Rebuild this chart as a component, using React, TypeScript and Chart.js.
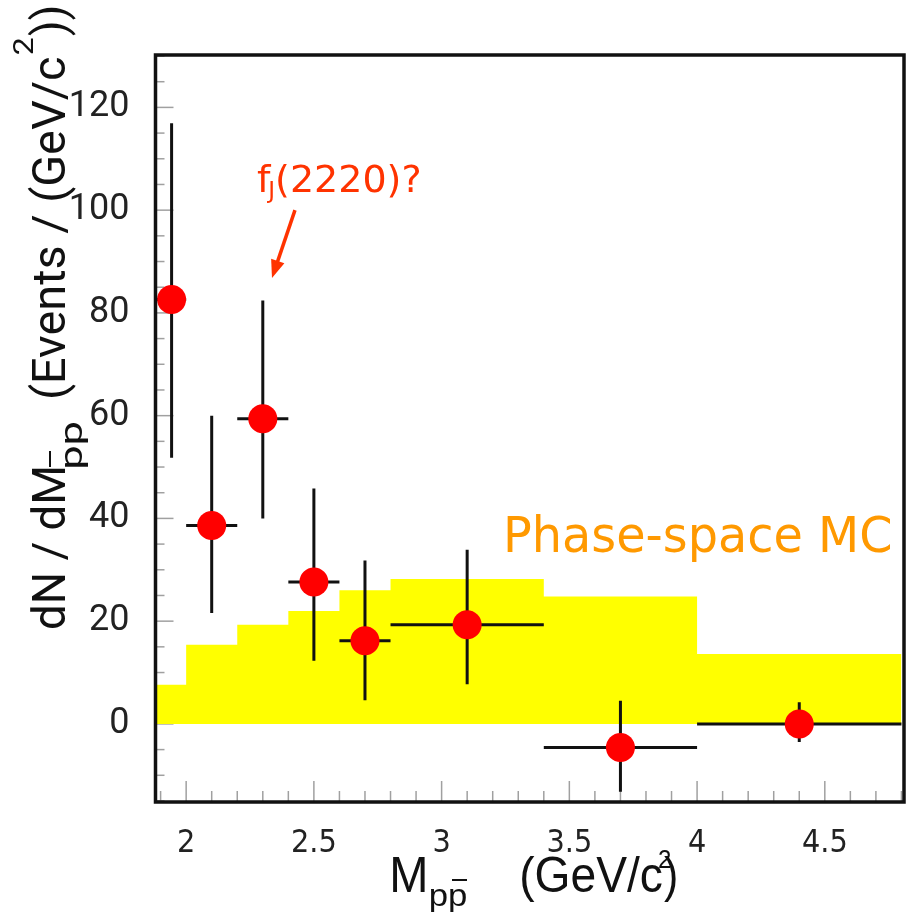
import React, { useEffect, useRef } from "react";
import { Chart, registerables } from "chart.js";

Chart.register(...registerables);

// ---- data ----
const pointX = [1.943, 2.1, 2.3, 2.5, 2.7, 3.1, 3.7, 4.4];
const pointY = [82.6, 38.6, 59.4, 27.6, 16.2, 19.3, -4.6, 0.0];
const errXLow = [1.88, 2.0, 2.2, 2.4, 2.6, 2.8, 3.4, 4.0];
const errXHigh = [2.0, 2.2, 2.4, 2.6, 2.8, 3.4, 4.0, 4.8];
const errYLow = [51.8, 21.6, 40.0, 12.3, 4.6, 7.7, -13.2, -3.5];
const errYHigh = [116.9, 60.0, 82.4, 45.8, 31.8, 33.9, 4.5, 4.2];

const mcEdges = [1.88, 2.0, 2.2, 2.4, 2.6, 2.8, 3.4, 4.0, 4.8];
const mcHeights = [7.6, 15.4, 19.3, 22.0, 26.0, 28.2, 24.8, 13.6];

const xRange = [1.88, 4.81];
const yRange = [-15.2, 130.2];
const xMajorStep = 0.5;
const xMinorStep = 0.1;
const yMajorStep = 20;
const yMinorStep = 5;

const annotationText = "(2220)?";
const phaseSpaceLabel = "Phase-space MC";

// ---- helpers ----
function fitText(ctx: CanvasRenderingContext2D, text: string, font: string, x: number, y: number, width: number) {
  ctx.font = font;
  ctx.textAlign = "left";
  ctx.textBaseline = "alphabetic";
  const m = ctx.measureText(text);
  const w = m.actualBoundingBoxLeft + m.actualBoundingBoxRight;
  const s = width / w;
  ctx.save();
  ctx.translate(x, y);
  ctx.scale(s, 1);
  ctx.fillText(text, m.actualBoundingBoxLeft, 0);
  ctx.restore();
}

function seg(ctx: CanvasRenderingContext2D, x1: number, y1: number, x2: number, y2: number) {
  ctx.beginPath();
  ctx.moveTo(x1, y1);
  ctx.lineTo(x2, y2);
  ctx.stroke();
}

const decorPlugin = {
  id: "decor",
  beforeDatasetsDraw(chart: any) {
    const { ctx, chartArea: a, scales } = chart;
    const x = scales.x;
    const y = scales.y;
    ctx.save();
    ctx.strokeStyle = "#a0a0a0";
    ctx.lineWidth = 1.5;
    const nx = Math.round((x.max - x.min) / xMinorStep) + 2;
    const x0 = Math.ceil(x.min / xMinorStep) * xMinorStep;
    for (let i = 0; i < nx; i++) {
      const v = +(x0 + i * xMinorStep).toFixed(4);
      if (v > x.max) break;
      const major = Math.abs(v / xMajorStep - Math.round(v / xMajorStep)) < 1e-6;
      const px = x.getPixelForValue(v);
      seg(ctx, px, a.bottom, px, a.bottom - (major ? 21 : 11));
    }
    const y0 = Math.ceil(y.min / yMinorStep) * yMinorStep;
    for (let v = y0; v <= y.max; v += yMinorStep) {
      const major = Math.abs(v / yMajorStep - Math.round(v / yMajorStep)) < 1e-6;
      const py = y.getPixelForValue(v);
      seg(ctx, a.left, py, a.left + (major ? 18 : 9), py);
    }
    ctx.restore();
  },
  beforeDatasetDraw(chart: any, args: any) {
    if (args.index !== 0) return;
    const { ctx, chartArea: a, scales } = chart;
    const x = scales.x;
    const y = scales.y;
    ctx.save();
    ctx.beginPath();
    ctx.rect(a.left, a.top, a.width, a.height);
    ctx.clip();
    ctx.strokeStyle = "#111";
    ctx.lineWidth = 3;
    for (let i = 0; i < pointX.length; i++) {
      const px = x.getPixelForValue(pointX[i]);
      const py = y.getPixelForValue(pointY[i]);
      seg(ctx, x.getPixelForValue(errXLow[i]), py, x.getPixelForValue(errXHigh[i]), py);
      seg(ctx, px, y.getPixelForValue(errYLow[i]), px, y.getPixelForValue(errYHigh[i]));
    }
    ctx.restore();
  },
  afterDatasetsDraw(chart: any) {
    const { ctx, chartArea: a } = chart;
    ctx.save();
    ctx.strokeStyle = "#111";
    ctx.lineWidth = 3.5;
    ctx.strokeRect(a.left, a.top, a.width, a.height);
    ctx.restore();
  },
  afterDraw(chart: any) {
    const { ctx, scales } = chart;
    const x = scales.x;
    const y = scales.y;
    ctx.save();
    // --- annotation f_J(2220)? ---
    const red = "#ff3300";
    ctx.fillStyle = red;
    ctx.strokeStyle = red;
    const tx = x.getPixelForValue(2.277);
    const ty = y.getPixelForValue(103.5);
    ctx.font = "38px 'DejaVu Sans'";
    ctx.textAlign = "left";
    ctx.textBaseline = "alphabetic";
    const fW = ctx.measureText("f").width;
    ctx.fillText("f", tx, ty);
    ctx.font = "23px 'DejaVu Sans'";
    const jW = ctx.measureText("J").width;
    ctx.fillText("J", tx + fW - 2, ty + 6);
    ctx.font = "38px 'DejaVu Sans'";
    ctx.fillText(annotationText, tx + fW + jW - 2, ty);
    // arrow
    const ax1 = x.getPixelForValue(2.426);
    const ay1 = y.getPixelForValue(100.0);
    const ax2 = x.getPixelForValue(2.336);
    const ay2 = y.getPixelForValue(86.8);
    const ang = Math.atan2(ay2 - ay1, ax2 - ax1);
    const hl = 18;
    const hw = 7;
    ctx.lineWidth = 3.5;
    seg(ctx, ax1, ay1, ax2 - Math.cos(ang) * hl * 0.8, ay2 - Math.sin(ang) * hl * 0.8);
    ctx.beginPath();
    ctx.moveTo(ax2, ay2);
    ctx.lineTo(ax2 - Math.cos(ang) * hl - Math.sin(ang) * hw, ay2 - Math.sin(ang) * hl + Math.cos(ang) * hw);
    ctx.lineTo(ax2 - Math.cos(ang) * hl + Math.sin(ang) * hw, ay2 - Math.sin(ang) * hl - Math.cos(ang) * hw);
    ctx.closePath();
    ctx.fill();
    // --- Phase-space MC ---
    ctx.fillStyle = "#ff9900";
    fitText(ctx, phaseSpaceLabel, "50px 'DejaVu Sans'", x.getPixelForValue(3.255), y.getPixelForValue(33.5), 384);

    // --- x axis title ---
    ctx.fillStyle = "#111";
    ctx.strokeStyle = "#111";
    const xf = "'Liberation Sans Narrow', 'Liberation Sans', sans-serif";
    fitText(ctx, "M", `50px ${xf}`, 393, 892, 32);
    fitText(ctx, "pp", `31px ${xf}`, 431, 906, 35);
    ctx.lineWidth = 2;
    seg(ctx, 452, 880, 467, 880);
    fitText(ctx, "(GeV/c", `50px ${xf}`, 522, 892, 140);
    fitText(ctx, "2", `26px ${xf}`, 659, 868, 12);
    fitText(ctx, ")", `50px ${xf}`, 664, 892, 12);

    // --- y axis title (rotated) ---
    ctx.save();
    ctx.translate(65, 628);
    ctx.rotate(-Math.PI / 2);
    const yf = "Roboto, sans-serif";
    fitText(ctx, "dN / dM", `47px ${yf}`, 0, 0, 160);
    fitText(ctx, "pp", `31px ${yf}`, 161, 17, 44);
    ctx.lineWidth = 2;
    seg(ctx, 161, -15, 177, -15);
    fitText(ctx, "(Events / (GeV/c", `47px ${yf}`, 231, 0, 340);
    fitText(ctx, "2", `28px ${yf}`, 574, -32, 16);
    fitText(ctx, "))", `47px ${yf}`, 592, 0, 29);
    ctx.restore();

    ctx.restore();
  },
};

export default function App() {
  const canvasRef = useRef<HTMLCanvasElement | null>(null);

  useEffect(() => {
    const canvas = canvasRef.current;
    if (!canvas) return;

    const mcPoints = mcEdges.map((e, i) => ({ x: e, y: i < mcHeights.length ? mcHeights[i] : mcHeights[mcHeights.length - 1] }));
    const dataPoints = pointX.map((v, i) => ({ x: v, y: pointY[i] }));

    const chart = new Chart(canvas, {
      type: "scatter",
      data: {
        datasets: [
          {
            type: "scatter",
            label: "Data",
            data: dataPoints,
            pointRadius: 14.5,
            pointHoverRadius: 14.5,
            pointBackgroundColor: "#ff0000",
            pointBorderWidth: 0,
            borderWidth: 0,
            order: 0,
            clip: false,
          } as any,
          {
            type: "line",
            label: "Phase-space MC",
            data: mcPoints,
            stepped: "before",
            fill: "origin",
            backgroundColor: "#ffff00",
            borderWidth: 0,
            borderColor: "rgba(0,0,0,0)",
            pointRadius: 0,
            order: 1,
          } as any,
        ],
      },
      options: {
        animation: false,
        responsive: false,
        devicePixelRatio: 1,
        layout: { autoPadding: false, padding: { top: 55, right: 8, left: 0, bottom: 0 } },
        plugins: {
          legend: { display: false },
          tooltip: { enabled: false },
          title: { display: false },
        },
        scales: {
          x: {
            type: "linear",
            min: xRange[0],
            max: xRange[1],
            grid: { display: false },
            border: { display: false },
            afterFit: (s: any) => {
              s.height = 110;
            },
            ticks: {
              stepSize: xMajorStep,
              includeBounds: false,
              padding: 14,
              color: "#222",
              font: { family: "'Liberation Sans Narrow', 'DejaVu Sans Condensed', sans-serif", size: 32 },
              maxRotation: 0,
              callback: (v: any) => String(Math.round(Number(v) * 10) / 10),
            },
          },
          y: {
            type: "linear",
            min: yRange[0],
            max: yRange[1],
            grid: { display: false },
            border: { display: false },
            afterFit: (s: any) => {
              s.width = 155.5;
            },
            ticks: {
              stepSize: yMajorStep,
              includeBounds: false,
              padding: 18,
              color: "#222",
              font: { family: "Roboto, sans-serif", size: 36 },
              callback: (v: any) => String(Math.round(Number(v))),
            },
          },
        },
      } as any,
      plugins: [decorPlugin as any],
    });

    return () => {
      chart.destroy();
    };
  }, []);

  return (
    <div style={{ position: "fixed", left: 0, top: 0, width: 912, height: 912, background: "#fff" }}>
      <canvas ref={canvasRef} width={912} height={912} style={{ display: "block" }} />
    </div>
  );
}
